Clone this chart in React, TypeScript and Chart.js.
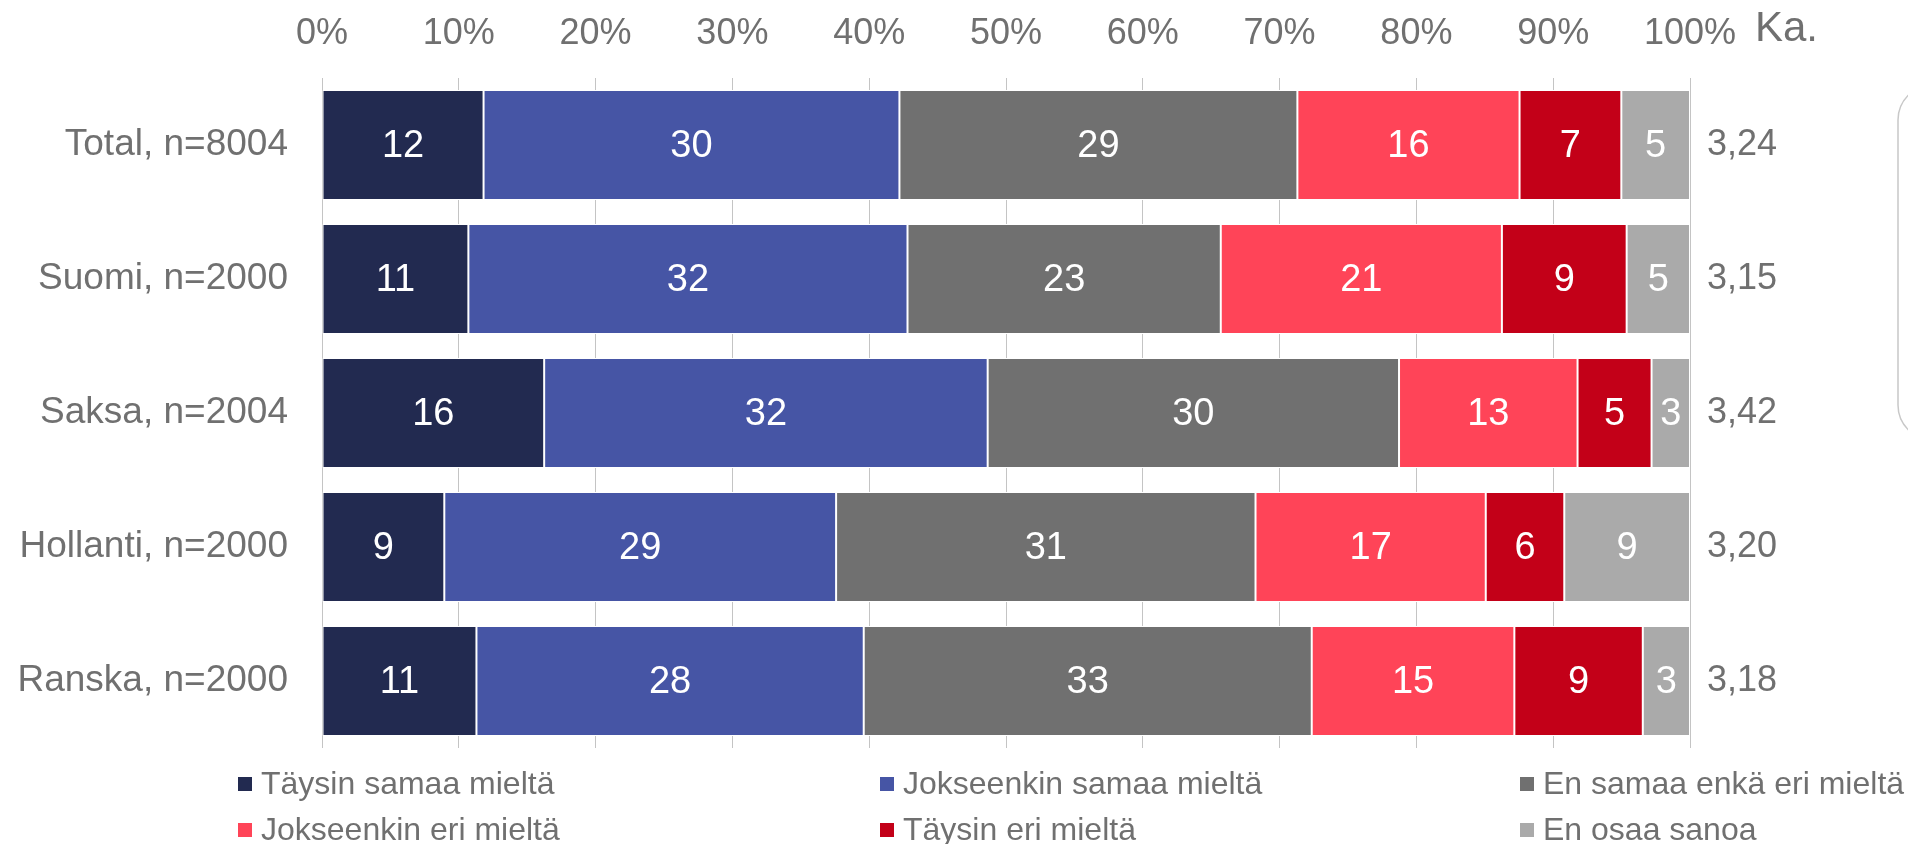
import React, { useEffect, useRef } from "react";
import { Chart, registerables } from "chart.js";

Chart.register(...registerables);

const categories = ["Total, n=8004", "Suomi, n=2000", "Saksa, n=2004", "Hollanti, n=2000", "Ranska, n=2000"];
const averages = ["3,24", "3,15", "3,42", "3,20", "3,18"];
const seriesNames = [
  "Täysin samaa mieltä",
  "Jokseenkin samaa mieltä",
  "En samaa enkä eri mieltä",
  "Jokseenkin eri mieltä",
  "Täysin eri mieltä",
  "En osaa sanoa",
];
const taysinSamaa = [11.81, 10.7, 16.24, 8.94, 11.29];
const jokseenkinSamaa = [30.4, 32.1, 32.42, 28.64, 28.31];
const enSamaaEnkaEri = [29.09, 22.9, 30.07, 30.66, 32.75];
const jokseenkinEri = [16.24, 20.55, 13.05, 16.83, 14.81];
const taysinEri = [7.44, 9.12, 5.41, 5.74, 9.39];
const enOsaa = [5.02, 4.63, 2.81, 9.19, 3.45];
const seriesColors = ["#222A50", "#4655A5", "#707070", "#FF4458", "#C30018", "#AAAAAA"];
const tickValues = [0, 10, 20, 30, 40, 50, 60, 70, 80, 90, 100];

const FONT = "'Liberation Sans', Arial, sans-serif";
const GRAY = "#707070";

const extrasPlugin = {
  id: "extras",
  afterDatasetsDraw(chart: any) {
    const ctx = chart.ctx;
    ctx.save();
    ctx.font = `38px ${FONT}`;
    ctx.fillStyle = "#ffffff";
    ctx.textAlign = "center";
    ctx.textBaseline = "middle";
    chart.data.datasets.forEach((ds: any, di: number) => {
      const meta = chart.getDatasetMeta(di);
      meta.data.forEach((el: any, i: number) => {
        const v = ds.data[i];
        const cx = (el.x + el.base) / 2;
        ctx.fillText(String(Math.round(v)), cx, el.y + 2);
      });
    });
    ctx.restore();
  },
  afterDraw(chart: any) {
    const ctx = chart.ctx;
    ctx.save();
    ctx.font = `42px ${FONT}`;
    ctx.fillStyle = GRAY;
    ctx.textAlign = "left";
    ctx.textBaseline = "middle";
    ctx.fillText("Ka.", 1755, 29);

    ctx.strokeStyle = "#c8c8c8";
    ctx.lineWidth = 1.5;
    const bx = 1898, by = 85, bw = 200, bh = 355, r = 35;
    ctx.beginPath();
    ctx.moveTo(bx + r, by);
    ctx.lineTo(bx + bw - r, by);
    ctx.arcTo(bx + bw, by, bx + bw, by + r, r);
    ctx.lineTo(bx + bw, by + bh - r);
    ctx.arcTo(bx + bw, by + bh, bx + bw - r, by + bh, r);
    ctx.lineTo(bx + r, by + bh);
    ctx.arcTo(bx, by + bh, bx, by + bh - r, r);
    ctx.lineTo(bx, by + r);
    ctx.arcTo(bx, by, bx + r, by, r);
    ctx.closePath();
    ctx.stroke();

    const colX = [238, 880, 1520];
    const rowY = [784, 830];
    ctx.font = `32px ${FONT}`;
    ctx.textBaseline = "middle";
    chart.data.datasets.forEach((ds: any, i: number) => {
      const x = colX[i % 3];
      const y = rowY[Math.floor(i / 3)];
      ctx.fillStyle = ds.backgroundColor;
      ctx.fillRect(x, y - 7, 14, 14);
      ctx.fillStyle = GRAY;
      ctx.fillText(ds.label, x + 23, y + 1);
    });
    ctx.restore();
  },
};

export default function App() {
  const canvasRef = useRef<HTMLCanvasElement | null>(null);

  useEffect(() => {
    if (!canvasRef.current) return;
    const seriesData = [taysinSamaa, jokseenkinSamaa, enSamaaEnkaEri, jokseenkinEri, taysinEri, enOsaa];
    const chart = new Chart(canvasRef.current, {
      type: "bar",
      data: {
        labels: categories,
        datasets: seriesNames.map((name, i) => ({
          label: name,
          data: seriesData[i],
          backgroundColor: seriesColors[i],
          borderColor: "#ffffff",
          borderWidth: 1,
          borderSkipped: false,
          categoryPercentage: 0.82,
          barPercentage: 1,
        })),
      },
      options: {
        indexAxis: "y",
        animation: false,
        responsive: false,
        maintainAspectRatio: false,
        layout: { padding: { top: 12, bottom: 96, left: 0, right: 0 } },
        plugins: {
          legend: { display: false },
          tooltip: { enabled: false },
          title: { display: false },
        },
        scales: {
          x: {
            position: "top",
            stacked: true,
            min: 0,
            max: 100,
            afterBuildTicks: (s: any) => {
              s.ticks = tickValues.map((v) => ({ value: v }));
            },
            afterFit: (s: any) => {
              s.height = 66;
            },
            ticks: {
              callback: (v: any) => v + "%",
              font: { family: FONT, size: 36 },
              color: GRAY,
              padding: 22,
              maxRotation: 0,
              autoSkip: false,
            },
            grid: { color: "#c4c4c4", lineWidth: 1, drawTicks: false },
            border: { display: false },
          },
          y: {
            stacked: true,
            afterFit: (s: any) => {
              s.width = 322;
            },
            ticks: {
              font: { family: FONT, size: 37 },
              color: GRAY,
              padding: 34,
            },
            grid: { display: false, drawTicks: false },
            border: { display: false },
          },
          y2: {
            type: "category",
            position: "right",
            labels: averages,
            offset: true,
            afterFit: (s: any) => {
              s.width = 218;
            },
            ticks: {
              font: { family: FONT, size: 36 },
              color: GRAY,
              padding: 17,
            },
            grid: { display: false, drawTicks: false },
            border: { display: false },
          },
        },
      } as any,
      plugins: [extrasPlugin],
    });
    return () => chart.destroy();
  }, []);

  return (
    <div style={{ position: "absolute", left: 0, top: 0, width: 1908, height: 844, background: "#fff" }}>
      <canvas ref={canvasRef} width={1908} height={844} style={{ width: 1908, height: 844 }} />
    </div>
  );
}
